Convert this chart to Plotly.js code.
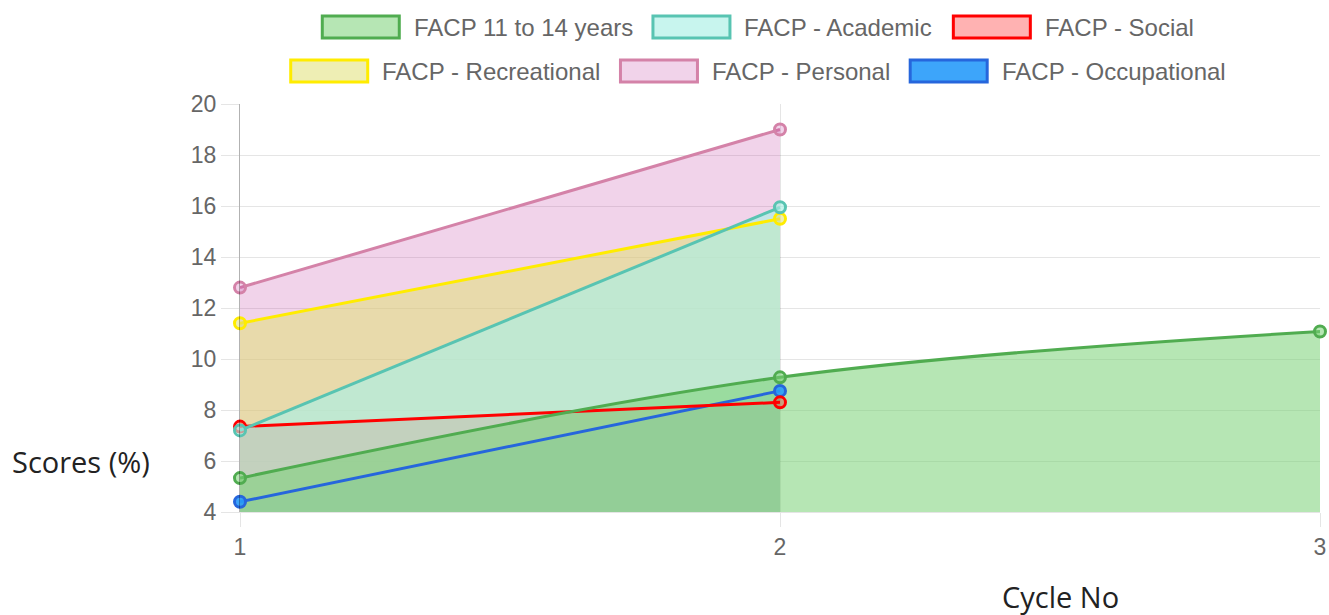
<!DOCTYPE html>
<html><head><meta charset="utf-8">
<script src="https://cdn.plot.ly/plotly-3.0.1.min.js"></script>
<style>html,body{margin:0;padding:0;background:#fff;} #chart{width:1329px;height:615px;}</style>
</head><body><div id="chart"></div>
<script>
// ---- data ----
const cycles = [1, 2, 3];
const xTickLabels = ['1', '2', '3'];
const yTickValues = [4, 6, 8, 10, 12, 14, 16, 18, 20];
const seriesNames = ['FACP 11 to 14 years', 'FACP - Academic', 'FACP - Social',
                     'FACP - Recreational', 'FACP - Personal', 'FACP - Occupational'];
const facp11to14 = [5.33, 9.28, 11.08];
const academic = [7.2, 15.95];
const social = [7.35, 8.3];
const recreational = [11.4, 15.5];
const personal = [12.8, 19.0];
const occupational = [4.4, 8.75];
const yAxisLabel = 'Scores (%)';
const xAxisLabel = 'Cycle No';

// ---- styles ----
const seriesValues = [facp11to14, academic, social, recreational, personal, occupational];
const lineColors = ['rgb(80,172,80)', 'rgb(88,196,178)', 'rgb(255,0,0)',
                    'rgb(255,236,0)', 'rgb(212,130,168)', 'rgb(38,102,220)'];
const fillColors = ['rgba(122,210,119,0.55)', 'rgba(170,240,229,0.65)', 'rgba(255,0,0,0.3)',
                    'rgba(224,224,119,0.55)', 'rgba(200,80,170,0.25)', 'rgba(40,155,250,0.9)'];
const lineShapes = ['spline', 'linear', 'linear', 'linear', 'linear', 'linear'];
const tickFont = {family: 'Liberation Sans, Arial, sans-serif', size: 23, color: '#666'};
const legendFont = {family: 'Liberation Sans, Arial, sans-serif', size: 24, color: '#666'};
const gridColor = 'rgba(0,0,0,0.1)';

const M = {l: 240, r: 9, t: 104, b: 103};
const W = 1329, H = 615;
const PW = W - M.l - M.r, PH = H - M.t - M.b;
const px2x = px => (px - M.l) / PW;
const py2y = py => (H - M.b - py) / PH;

const traces = [];
// fills first (last dataset drawn first, first dataset on top)
for (let i = seriesValues.length - 1; i >= 0; i--) {
  const ys = seriesValues[i];
  traces.push({
    type: 'scatter', mode: 'lines', x: cycles.slice(0, ys.length), y: ys,
    fill: 'tozeroy', fillcolor: fillColors[i],
    line: {width: 0, shape: lineShapes[i], color: fillColors[i]},
    showlegend: false, hoverinfo: 'skip'
  });
}
// lines + points on top
for (let i = seriesValues.length - 1; i >= 0; i--) {
  const ys = seriesValues[i];
  traces.push({
    type: 'scatter', mode: 'lines+markers', name: seriesNames[i],
    x: cycles.slice(0, ys.length), y: ys,
    line: {width: 3, color: lineColors[i], shape: lineShapes[i]},
    marker: {size: 11, color: fillColors[i], line: {width: 3, color: lineColors[i]}},
    cliponaxis: false, showlegend: false, hoverinfo: 'skip'
  });
}

// ---- legend (Chart.js-style boxes) ----
const ctx = document.createElement('canvas').getContext('2d');
ctx.font = legendFont.size + 'px "Liberation Sans"';
const boxW = 80, boxH = 25, textGap = 12, itemGap = 19, legendCenterX = 757, maxRowW = 1144;
const rowY = [27, 71];
const items = seriesNames.map((n, i) => ({i, name: n, w: boxW + textGap + ctx.measureText(n).width}));
const rows = [[]];
let cur = 0;
items.forEach(it => {
  const add = (rows[rows.length - 1].length ? itemGap : 0) + it.w;
  if (cur + add > maxRowW && rows[rows.length - 1].length) { rows.push([it]); cur = it.w; }
  else { rows[rows.length - 1].push(it); cur += add; }
});
const shapes = [], annotations = [];
rows.forEach((row, r) => {
  const total = row.reduce((s, it) => s + it.w, 0) + itemGap * (row.length - 1);
  let x = legendCenterX - total / 2;
  const cy = rowY[r];
  row.forEach(it => {
    shapes.push({type: 'rect', xref: 'paper', yref: 'paper', layer: 'above',
      x0: px2x(x + 1.5), x1: px2x(x + boxW - 1.5), y0: py2y(cy + boxH / 2 - 1.5), y1: py2y(cy - boxH / 2 + 1.5),
      fillcolor: fillColors[it.i], line: {color: lineColors[it.i], width: 3}});
    annotations.push({xref: 'paper', yref: 'paper', x: px2x(x + boxW + textGap - 1), y: py2y(cy),
      xanchor: 'left', yanchor: 'middle', showarrow: false, text: it.name, font: legendFont});
    x += it.w + itemGap;
  });
});
const labelFont = {family: 'Open Sans, sans-serif', size: 29, color: '#222'};
annotations.push({xref: 'paper', yref: 'paper', x: px2x(81), y: py2y(461), xanchor: 'center', yanchor: 'middle',
  showarrow: false, text: yAxisLabel, font: labelFont});
annotations.push({xref: 'paper', yref: 'paper', x: px2x(1060), y: py2y(596), xanchor: 'center', yanchor: 'middle',
  showarrow: false, text: xAxisLabel, font: labelFont});

const layout = {
  width: W, height: H, margin: M, paper_bgcolor: '#fff', plot_bgcolor: '#fff',
  showlegend: false, hovermode: false,
  xaxis: {range: [1, 3], tickvals: cycles, ticktext: xTickLabels, showgrid: true, gridcolor: gridColor, gridwidth: 1,
    ticks: 'outside', ticklen: 14, tickcolor: gridColor, tickwidth: 1, showline: true, linecolor: gridColor, linewidth: 1,
    zeroline: false, tickfont: tickFont, fixedrange: true},
  yaxis: {range: [4, 20], tickvals: yTickValues, showgrid: true, gridcolor: gridColor, gridwidth: 1,
    ticks: 'outside', ticklen: 18, tickcolor: gridColor, tickwidth: 1, showline: true, linecolor: 'rgba(0,0,0,0.3)', linewidth: 1,
    zeroline: false, tickfont: tickFont, fixedrange: true},
  shapes: shapes, annotations: annotations
};
Plotly.newPlot('chart', traces, layout, {displayModeBar: false, staticPlot: true});
</script>
</body></html>
